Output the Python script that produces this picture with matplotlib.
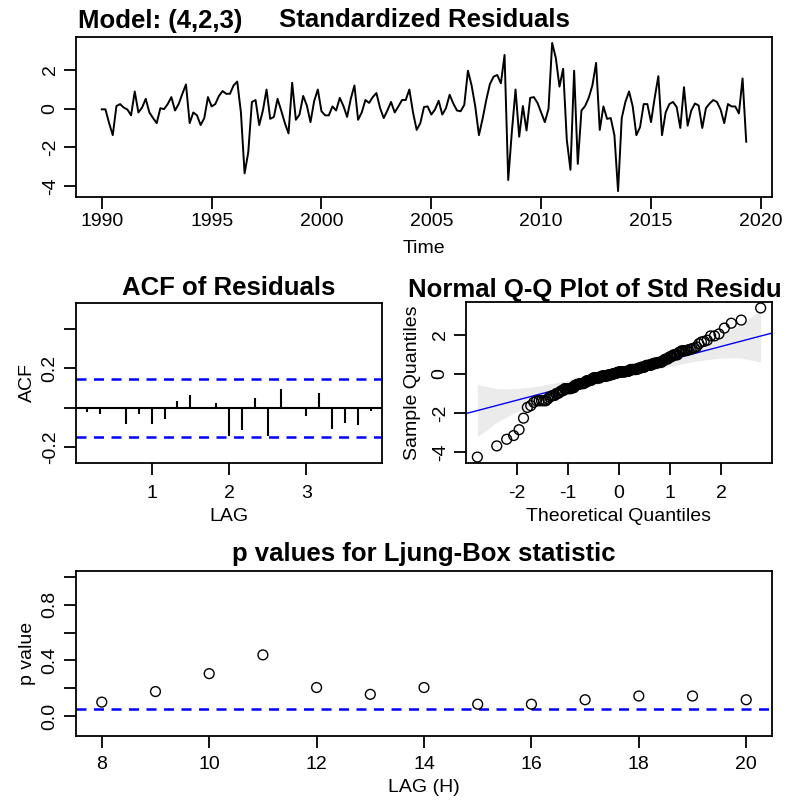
import numpy as np
import matplotlib.pyplot as plt
from statistics import NormalDist

plt.rcParams.update({
    'font.family': ['Liberation Sans', 'DejaVu Sans'],
    'font.size': 14,
    'axes.unicode_minus': False,
    'axes.linewidth': 1.3,
    'xtick.major.size': 8.5, 'ytick.major.size': 8.5,
    'xtick.major.width': 1.3, 'ytick.major.width': 1.3,
    'xtick.labelsize': 14, 'ytick.labelsize': 14,
    'xtick.major.pad': 3, 'ytick.major.pad': 4,
})

# standardized residuals, bimonthly from 1990
resid = [
    -0.04, -0.04, -0.75, -1.37, 0.13, 0.23, 0.05, -0.05, -0.35, 0.88,
    -0.20, 0.05, 0.50, -0.20, -0.49, -0.75, 0.02, -0.03, 0.23, 0.59,
    -0.10, 0.23, 0.76, 1.24, -0.75, -0.20, -0.35, -0.85, -0.49, 0.59,
    0.11, 0.23, 0.65, 0.90, 0.76, 0.76, 1.19, 1.39, -0.20, -3.34,
    -2.26, 0.34, 0.44, -0.85, -0.10, 0.98, -0.53, -0.43, 0.50, -0.10,
    -0.75, -1.28, 1.33, -0.58, -0.31, 0.65, 0.16, -0.70, 0.38, 0.98,
    -0.14, -0.35, -0.35, 0.11, -0.10, 0.55, 0.13, -0.43, 0.50, 1.19,
    -0.58, -0.20, 0.44, 0.29, 0.59, 0.80, 0.03, -0.49, -0.10, 0.34,
    -0.20, 0.11, 0.44, 0.44, 0.98, -0.20, -1.10, -0.75, 0.08, 0.11,
    -0.31, -0.05, 0.40, -0.31, 0.02, 0.71, 0.26, -0.10, -0.14, 0.19,
    1.95, 1.19, 0.11, -1.37, -0.53, 0.44, 1.26, 1.64, 1.73, 1.30,
    2.76, -3.68, -1.18, 0.98, -1.45, 0.13, -1.13, 0.55, 0.59, 0.29,
    -0.20, -0.70, -0.02, 3.38, 2.60, 1.13, 2.05, -1.62, -3.15, 1.95,
    -2.85, -0.10, 0.13, 0.56, 1.20, 2.35, -1.10, 0.11, -0.53, -0.49,
    -1.37, -4.25, -0.49, 0.34, 0.88, 0.11, -1.37, -0.96, 0.23, 0.23,
    -0.70, 0.55, 1.67, -1.37, -0.20, 0.23, 0.34, 0.08, -1.00, 1.10,
    -0.88, -0.10, 0.26, 0.16, -1.00, 0.02, 0.26, 0.44, 0.34, -0.05,
    -0.75, 0.23, 0.11, 0.11, -0.25, 1.55, -1.71,
]
start_year = 1990
freq = 6

# ACF of residuals, lags 1..23 (in units of 1/freq years)
acf_vals = [-0.02, -0.03, 0.005, -0.085, -0.03, -0.085, -0.055, 0.035,
            0.065, -0.005, 0.025, -0.145, -0.115, 0.05, -0.145, 0.095,
            0.003, -0.04, 0.075, -0.11, -0.08, -0.087, -0.017]

# Ljung-Box p values
lb_lags = [8, 9, 10, 11, 12, 13, 14, 15, 16, 17, 18, 19, 20]
lb_pvals = [0.10, 0.176, 0.305, 0.44, 0.205, 0.156, 0.205, 0.085, 0.085,
            0.117, 0.144, 0.144, 0.117]

W, H = 792, 801
fig = plt.figure(figsize=(W / 100, H / 100), dpi=100)


def box(l, t, r, b):
    return [l / W, 1 - b / H, (r - l) / W, (b - t) / H]


def rot_yticks(ax):
    for t in ax.get_yticklabels():
        t.set_rotation(90)
        t.set_va('center')
        t.set_ha('right')


title_kw = dict(fontsize=18.5, fontweight='bold')

# --- standardized residuals
resid = np.array(resid)
n = len(resid)
time = start_year + np.arange(n) / freq
ax1 = fig.add_axes(box(76, 37, 772, 197))
ax1.plot(time, resid, color='black', lw=1.4)
ax1.margins(x=0.04, y=0.04)
ax1.set_xticks(range(1990, 2021, 5))
ax1.set_yticks([-4, -2, 0, 2])
rot_yticks(ax1)
ax1.set_xlabel('Time', labelpad=7)
ax1.set_title('Standardized Residuals', pad=7, **title_kw)
fig.text(78 / W, 1 - 28 / H, 'Model: (4,2,3)', ha='left', va='baseline', **title_kw)

# --- ACF
lags = np.arange(1, len(acf_vals) + 1) / freq
ax2 = fig.add_axes(box(76, 303, 382, 463))
ax2.vlines(lags, 0, acf_vals, color='black', lw=1.5)
ax2.axhline(0, color='black', lw=1.5)
U = NormalDist().inv_cdf(0.975) / np.sqrt(n)
for u in (U, -U):
    ax2.axhline(u, color='blue', ls=(0, (4, 3)), lw=1.8)
ax2.set_xlim(lags[0] - 0.04 * (lags[-1] - lags[0]), lags[-1] + 0.04 * (lags[-1] - lags[0]))
ax2.set_ylim(-0.25 - 0.03, 0.5 + 0.03)
ax2.set_xticks([1, 2, 3])
ax2.set_yticks([-0.2, 0, 0.2, 0.4])
ax2.set_yticklabels(['-0.2', '', '0.2', ''])
rot_yticks(ax2)
ax2.tick_params(axis='x', pad=7)
ax2.set_xlabel('LAG', labelpad=5)
ax2.set_ylabel('ACF', labelpad=4)
ax2.set_title('ACF of Residuals', pad=6, **title_kw)

# --- normal Q-Q
nd = NormalDist()
pp = (np.arange(1, n + 1) - 0.5) / n
z = np.array([nd.inv_cdf(p) for p in pp])
sample = np.sort(resid)
q1, q3 = np.percentile(resid, [25, 75])
b = (q3 - q1) / (nd.inv_cdf(0.75) - nd.inv_cdf(0.25))
a = q1 - b * nd.inv_cdf(0.25)
se = b / np.array([nd.pdf(v) for v in z]) * np.sqrt(pp * (1 - pp) / n)
fit = a + b * z
ax3 = fig.add_axes(box(466, 302, 772, 463))
ax3.fill_between(z, fit - 4.2 * se, fit + 4.2 * se, color='#ebebeb', lw=0)
ax3.axline((0, a), slope=b, color='blue', lw=1)
ax3.scatter(z, sample, s=50, facecolors='none', edgecolors='black', lw=1, zorder=3)
ax3.margins(x=0.04, y=0.04)
ax3.set_xticks([-2, -1, 0, 1, 2])
ax3.set_yticks([-4, -2, 0, 2])
rot_yticks(ax3)
ax3.tick_params(axis='x', pad=7)
ax3.set_xlabel('Theoretical Quantiles', labelpad=5)
ax3.set_ylabel('Sample Quantiles', labelpad=8)
# title is cut by the right edge in the original too
fig.text(408 / W, 1 - 297 / H, 'Normal Q-Q Plot of Std Residu', ha='left', va='baseline',
         **title_kw)

# --- Ljung-Box
ax4 = fig.add_axes(box(76, 571, 772, 736))
ax4.scatter(lb_lags, lb_pvals, s=50, facecolors='none', edgecolors='black', lw=1, zorder=3)
ax4.axhline(0.05, color='blue', ls=(0, (4, 3)), lw=1.8)
ax4.set_xlim(7.52, 20.48)
ax4.set_ylim(-0.144, 1.044)
ax4.set_xticks(range(8, 21, 2))
ax4.set_yticks([0, 0.2, 0.4, 0.6, 0.8, 1.0])
ax4.set_yticklabels(['0.0', '', '0.4', '', '0.8', ''])
rot_yticks(ax4)
ax4.tick_params(axis='x', pad=6)
ax4.set_xlabel('LAG (H)', labelpad=4)
ax4.set_ylabel('p value', labelpad=4)
ax4.set_title('p values for Ljung-Box statistic', pad=7, **title_kw)

fig.savefig('out.png', dpi=100)
